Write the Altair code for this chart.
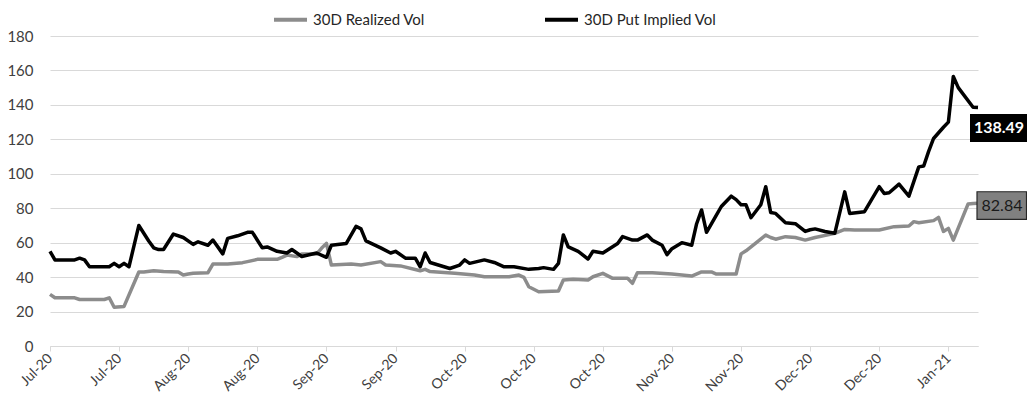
import altair as alt
import pandas as pd

# ---- data ----
series_names = ["30D Realized Vol", "30D Put Implied Vol"]
series_colors = ["#8c8c8c", "#000000"]

realized_dates = [
    "2020-07-10", "2020-07-11", "2020-07-15", "2020-07-16", "2020-07-21", "2020-07-22",
    "2020-07-23", "2020-07-25", "2020-07-28", "2020-07-29", "2020-07-31", "2020-08-02",
    "2020-08-05", "2020-08-06", "2020-08-07", "2020-08-08", "2020-08-11", "2020-08-12",
    "2020-08-15", "2020-08-18", "2020-08-19", "2020-08-21", "2020-08-25", "2020-08-26",
    "2020-08-27", "2020-08-29", "2020-08-30", "2020-09-02", "2020-09-03", "2020-09-04",
    "2020-09-05", "2020-09-09", "2020-09-11", "2020-09-15", "2020-09-16", "2020-09-19",
    "2020-09-23", "2020-09-24", "2020-09-25", "2020-09-30", "2020-10-04", "2020-10-06",
    "2020-10-11", "2020-10-13", "2020-10-14", "2020-10-15", "2020-10-17", "2020-10-21",
    "2020-10-22", "2020-10-24", "2020-10-27", "2020-10-28", "2020-10-30", "2020-11-01",
    "2020-11-04", "2020-11-05", "2020-11-06", "2020-11-09", "2020-11-13", "2020-11-17",
    "2020-11-19", "2020-11-21", "2020-11-22", "2020-11-26", "2020-11-27", "2020-11-28",
    "2020-12-02", "2020-12-03", "2020-12-04", "2020-12-06", "2020-12-08", "2020-12-10",
    "2020-12-12", "2020-12-16", "2020-12-18", "2020-12-20", "2020-12-25", "2020-12-28",
    "2020-12-31", "2021-01-01", "2021-01-02", "2021-01-05", "2021-01-06", "2021-01-07",
    "2021-01-08", "2021-01-09", "2021-01-12", "2021-01-13", "2021-01-14",
]
realized_vals = [
    30, 28, 28, 27, 27, 28,
    22.5, 23, 43, 43, 43.7, 43.2,
    43, 41.2, 41.8, 42.2, 42.6, 47.6,
    47.6, 48.4, 49, 50.3, 50.3, 51.5,
    52.8, 51.9, 53.4, 53.4, 56.7, 59.6,
    47, 47.6, 47, 49, 47, 46.5,
    43.7, 44.5, 43.2, 42.2, 41.2, 40.2,
    40.2, 41.2, 39.9, 34.4, 31.5, 31.9,
    38.3, 38.7, 38.3, 40.2, 42.2, 39.3,
    39.3, 36.4, 42.6, 42.6, 41.8, 40.6,
    43, 43, 41.8, 41.8, 53.5, 55.3,
    64.4, 63, 62, 63.5, 63, 61.5,
    63, 65.4, 67.7, 67.4, 67.4, 69.3,
    69.7, 72.2, 71.6, 72.8, 74.7, 66.5,
    68.3, 61.5, 82.5, 82.8, 82.84,
]

implied_dates = [
    "2020-07-10", "2020-07-11", "2020-07-15", "2020-07-16", "2020-07-17", "2020-07-18",
    "2020-07-22", "2020-07-23", "2020-07-24", "2020-07-25", "2020-07-26", "2020-07-28",
    "2020-07-30", "2020-07-31", "2020-08-01", "2020-08-02", "2020-08-04", "2020-08-06",
    "2020-08-08", "2020-08-09", "2020-08-11", "2020-08-12", "2020-08-14", "2020-08-15",
    "2020-08-17", "2020-08-19", "2020-08-20", "2020-08-22", "2020-08-23", "2020-08-25",
    "2020-08-27", "2020-08-28", "2020-08-30", "2020-09-02", "2020-09-04", "2020-09-05",
    "2020-09-08", "2020-09-10", "2020-09-11", "2020-09-12", "2020-09-15", "2020-09-17",
    "2020-09-18", "2020-09-20", "2020-09-22", "2020-09-23", "2020-09-24", "2020-09-25",
    "2020-09-29", "2020-10-01", "2020-10-02", "2020-10-03", "2020-10-06", "2020-10-08",
    "2020-10-10", "2020-10-12", "2020-10-15", "2020-10-17", "2020-10-18", "2020-10-20",
    "2020-10-21", "2020-10-22", "2020-10-23", "2020-10-25", "2020-10-27", "2020-10-28",
    "2020-10-30", "2020-11-02", "2020-11-03", "2020-11-05", "2020-11-06", "2020-11-08",
    "2020-11-09", "2020-11-11", "2020-11-12", "2020-11-13", "2020-11-15", "2020-11-17",
    "2020-11-18", "2020-11-19", "2020-11-20", "2020-11-22", "2020-11-23", "2020-11-25",
    "2020-11-26", "2020-11-27", "2020-11-28", "2020-11-29", "2020-12-01", "2020-12-02",
    "2020-12-03", "2020-12-04", "2020-12-06", "2020-12-08", "2020-12-10", "2020-12-11",
    "2020-12-12", "2020-12-14", "2020-12-16", "2020-12-18", "2020-12-19", "2020-12-22",
    "2020-12-25", "2020-12-26", "2020-12-27", "2020-12-29", "2020-12-31", "2021-01-02",
    "2021-01-03", "2021-01-04", "2021-01-05", "2021-01-07", "2021-01-08", "2021-01-09",
    "2021-01-10", "2021-01-13", "2021-01-14",
]
implied_vals = [
    55, 50, 50, 51, 50, 46,
    46, 48, 46, 48, 46, 70,
    61, 57, 56, 56, 65, 63,
    59, 60.5, 58.5, 61.5, 53.5, 62.5,
    64, 66, 66, 57, 57.5, 55,
    54, 56, 52, 54, 51.5, 58.5,
    59.5, 69.5, 68, 61, 57, 54,
    55, 51, 51, 46, 54, 48.5,
    45, 47, 50, 48, 50, 48.5,
    46, 46, 44.5, 45, 45.5, 44.5,
    48, 64.5, 57.5, 55, 50.5, 55,
    54, 59.5, 63.5, 61.5, 61.5, 64.5,
    61.5, 58.5, 53, 56.5, 60, 58.5,
    71, 79, 66, 76, 81, 87,
    85, 82, 82, 74.5, 82, 92.5,
    77.5, 77, 71.5, 71, 66.5, 67.5,
    68, 66.5, 65.5, 89.5, 77, 78,
    92.5, 88.5, 89, 94, 87, 104,
    104.5, 113, 120.5, 127, 130, 156.5,
    150, 138.6, 138.49,
]

tick_dates = [
    "2020-07-10", "2020-07-24", "2020-08-07", "2020-08-21", "2020-09-04", "2020-09-18",
    "2020-10-02", "2020-10-16", "2020-10-30", "2020-11-13", "2020-11-27", "2020-12-11",
    "2020-12-25", "2021-01-08",
]
tick_format = "%b-%y"
y_ticks = [0, 20, 40, 60, 80, 100, 120, 140, 160, 180]


def dt(s):
    y, m, d = (int(p) for p in s.split("-"))
    return alt.DateTime(year=y, month=m, date=d, utc=True)


FONT = "Lato"
TXT = "#404040"
GRID = "#d9d9d9"

df_r = pd.DataFrame({"date": realized_dates, "value": realized_vals, "series": series_names[0]})
df_i = pd.DataFrame({"date": implied_dates, "value": implied_vals, "series": series_names[1]})

x_scale = alt.Scale(type="utc", domain=[dt(realized_dates[0]), dt(realized_dates[-1])])
y_scale = alt.Scale(domain=[y_ticks[0], y_ticks[-1]])

x_axis = alt.Axis(
    values=[dt(t) for t in tick_dates],
    labelExpr=f"utcFormat(datum.value, '{tick_format}')",
    labelAngle=-45,
    labelAlign="right",
    labelBaseline="middle",
    labelOverlap=False,
    labelBound=False,
    labelFlush=False,
    labelPadding=5,
    labelFontSize=14,
    tickSize=5,
    tickColor=GRID,
    domainColor=GRID,
    grid=False,
)
y_axis = alt.Axis(
    values=y_ticks,
    domain=False,
    ticks=False,
    tickSize=0,
    labelPadding=17,
    grid=True,
    gridColor=GRID,
)
x_enc = alt.X("date:T", scale=x_scale, title=None, axis=x_axis)
y_enc = alt.Y("value:Q", scale=y_scale, title=None, axis=y_axis)

color_enc = alt.Color(
    "series:N",
    scale=alt.Scale(domain=series_names, range=series_colors),
    legend=alt.Legend(
        title=None,
        orient="none",
        legendX=222,
        legendY=-35,
        direction="horizontal",
        symbolType="stroke",
        symbolStrokeWidth=4,
        symbolSize=1089,
        labelFont=FONT,
        labelFontSize=15,
        labelColor="#262626",
        labelOffset=4,
        columnPadding=112,
    ),
)

line_r = alt.Chart(df_r).mark_line(strokeWidth=3.5, strokeJoin="round").encode(
    x=x_enc, y=y_enc, color=color_enc
)
line_i = alt.Chart(df_i).mark_line(strokeWidth=3.5, strokeJoin="round").encode(
    x=x_enc, y=y_enc, color=color_enc
)

last_r = pd.DataFrame({"date": [realized_dates[-1]], "value": [realized_vals[-1]],
                       "label": [f"{realized_vals[-1]:.2f}"]})
last_i = pd.DataFrame({"date": [implied_dates[-1]], "value": [implied_vals[-1]],
                       "label": [f"{implied_vals[-1]:.2f}"]})

box_i = alt.Chart(last_i).mark_rect(
    color="#000000", xOffset=-8, x2Offset=49, yOffset=6.5, y2Offset=34.5
).encode(x=x_enc, x2="date:T", y=y_enc, y2="value:Q")
text_i = alt.Chart(last_i).mark_text(
    color="#ffffff", font=FONT, fontSize=16, fontWeight="bold",
    align="center", baseline="middle", dx=21, dy=20.5
).encode(x=x_enc, y=y_enc, text="label:N")

box_r = alt.Chart(last_r).mark_rect(
    fill="#808080", stroke="#262626", strokeWidth=1.2,
    xOffset=-1, x2Offset=48.5, yOffset=-11.6, y2Offset=16
).encode(x=x_enc, x2="date:T", y=y_enc, y2="value:Q")
text_r = alt.Chart(last_r).mark_text(
    color="#1a1a1a", font=FONT, fontSize=16,
    align="center", baseline="middle", dx=24, dy=2.2
).encode(x=x_enc, y=y_enc, text="label:N")

chart = (
    alt.layer(line_r, line_i, box_i, text_i, box_r, text_r)
    .properties(
        width=928,
        height=310,
        autosize=alt.AutoSizeParams(type="none"),
        padding={"left": 42, "top": 28, "right": 49, "bottom": 55},
        background="#ffffff",
    )
    .configure_view(stroke=None)
    .configure_axis(labelFont=FONT, labelFontSize=15, labelColor=TXT)
)

chart.save("out.html", embed_options={"renderer": "svg", "actions": False})
